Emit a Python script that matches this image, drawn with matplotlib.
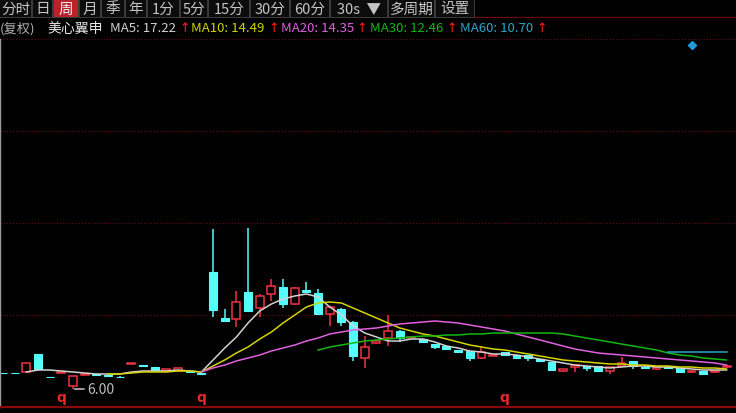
import numpy as np
import matplotlib
matplotlib.use("Agg")
import matplotlib.pyplot as plt
from matplotlib.ticker import LinearLocator
from matplotlib.transforms import blended_transform_factory

plt.rcParams['font.family'] = ['Noto Sans CJK SC', 'DejaVu Sans']

# ---- toolbar and header text ----
period_buttons = ["分时", "日", "周", "月", "季", "年", "1分", "5分", "15分",
                  "30分", "60分", "30s  ▼", "多周期", "设置"]
active_period = "周"
adjust_label = "(复权)"
stock_name = "美心翼申"
ma_names = ["MA5", "MA10", "MA20", "MA30", "MA60"]
ma_latest = [17.22, 14.49, 14.35, 12.46, 10.70]

# ---- weekly OHLC ----
opens = [6.65, 6.65, 6.68, 7.40, 6.50, 6.66, 6.12, 6.58, 6.60, 6.56,
         6.50, 7.02, 6.97, 6.88, 6.74, 6.72, 6.74, 6.66, 10.68, 8.84,
         8.80, 9.88, 9.24, 9.80, 10.08, 9.40, 9.96, 9.84, 9.00, 9.20,
         8.68, 7.24, 7.84, 8.04, 8.32, 8.06, 8.00, 7.80, 7.72, 7.56,
         7.52, 7.24, 7.34, 7.48, 7.36, 7.36, 7.20, 7.08, 6.72, 6.88,
         6.92, 6.92, 6.72, 6.92, 7.12, 6.90, 6.80, 6.90, 6.84, 6.68,
         6.72, 6.68, 6.88]
highs = [6.66, 6.66, 7.04, 7.40, 6.50, 6.70, 6.52, 6.62, 6.61, 6.57,
         6.51, 7.05, 6.98, 6.90, 6.80, 6.84, 6.76, 6.66, 12.40, 9.20,
         9.92, 12.44, 9.80, 10.40, 10.40, 10.08, 10.28, 10.00, 9.32, 9.24,
         8.72, 8.12, 8.00, 8.96, 8.36, 8.10, 8.02, 7.82, 7.74, 7.58,
         7.54, 7.72, 7.38, 7.50, 7.38, 7.38, 7.22, 7.10, 6.82, 6.98,
         6.94, 6.94, 6.90, 7.28, 7.14, 6.92, 6.90, 6.92, 6.86, 6.73,
         6.74, 6.73, 6.96]
lows = [6.63, 6.63, 6.68, 6.80, 6.47, 6.66, 6.00, 6.56, 6.55, 6.51,
        6.46, 7.02, 6.93, 6.74, 6.72, 6.72, 6.68, 6.60, 8.88, 8.72,
        8.48, 9.10, 8.88, 9.52, 9.24, 9.36, 9.84, 8.96, 8.52, 8.52,
        7.12, 6.84, 7.80, 7.72, 7.88, 8.04, 7.86, 7.60, 7.58, 7.46,
        7.12, 7.22, 7.32, 7.34, 7.22, 7.12, 7.10, 6.74, 6.68, 6.68,
        6.72, 6.70, 6.60, 6.90, 6.80, 6.85, 6.78, 6.85, 6.66, 6.66,
        6.58, 6.66, 6.86]
closes = [6.64, 6.64, 7.04, 6.80, 6.48, 6.70, 6.52, 6.62, 6.56, 6.52,
          6.48, 7.05, 6.94, 6.76, 6.80, 6.84, 6.70, 6.62, 9.16, 8.72,
          9.48, 9.12, 9.72, 10.12, 9.40, 10.04, 9.88, 9.00, 9.28, 8.68,
          7.32, 7.68, 7.92, 8.32, 8.04, 8.10, 7.88, 7.68, 7.60, 7.48,
          7.24, 7.48, 7.38, 7.36, 7.24, 7.24, 7.12, 6.76, 6.80, 6.96,
          6.84, 6.72, 6.88, 7.04, 6.92, 6.86, 6.88, 6.86, 6.68, 6.72,
          6.60, 6.72, 6.94]

# ---- moving averages (first bar index, values) ----
ma5_start = 2
ma5 = [6.68, 6.76, 6.76, 6.72, 6.68, 6.64, 6.60, 6.60, 6.60, 6.68,
       6.72, 6.72, 6.72, 6.76, 6.72, 6.68, 7.16, 7.64, 8.08, 8.64,
       9.12, 9.40, 9.60, 9.72, 9.80, 9.68, 9.28, 8.96, 8.52, 8.24,
       8.08, 7.92, 7.92, 8.00, 8.00, 7.88, 7.72, 7.64, 7.52, 7.48,
       7.40, 7.40, 7.36, 7.28, 7.20, 7.12, 7.04, 6.96, 6.92, 6.88,
       6.84, 6.88, 6.92, 6.92, 6.88, 6.88, 6.84, 6.80, 6.76, 6.76,
       6.76]
ma10_start = 9
ma10 = [6.60, 6.60, 6.64, 6.68, 6.68, 6.68, 6.72, 6.72, 6.68, 6.92,
        7.16, 7.44, 7.68, 8.00, 8.28, 8.64, 8.96, 9.28, 9.44, 9.48,
        9.44, 9.24, 9.04, 8.84, 8.64, 8.44, 8.32, 8.20, 8.12, 8.00,
        7.88, 7.76, 7.68, 7.60, 7.56, 7.48, 7.40, 7.32, 7.24, 7.16,
        7.12, 7.08, 7.04, 7.00, 7.00, 6.96, 6.96, 6.92, 6.92, 6.88,
        6.88, 6.84, 6.84, 6.80]
ma20_start = 17
ma20 = [6.68, 6.84, 6.96, 7.12, 7.24, 7.36, 7.52, 7.64, 7.76, 7.92,
        8.04, 8.20, 8.28, 8.36, 8.40, 8.44, 8.52, 8.60, 8.64, 8.68,
        8.72, 8.68, 8.64, 8.56, 8.48, 8.40, 8.32, 8.20, 8.08, 7.96,
        7.84, 7.72, 7.60, 7.52, 7.44, 7.40, 7.36, 7.32, 7.28, 7.24,
        7.20, 7.16, 7.12, 7.08, 7.04, 6.96]
ma30_start = 27
ma30 = [7.56, 7.68, 7.76, 7.84, 7.92, 7.96, 8.00, 8.04, 8.08, 8.12,
        8.12, 8.16, 8.16, 8.20, 8.20, 8.24, 8.24, 8.24, 8.24, 8.24,
        8.24, 8.20, 8.12, 8.04, 7.96, 7.88, 7.80, 7.72, 7.64, 7.56,
        7.44, 7.36, 7.32, 7.24, 7.20, 7.16]
ma60_start = 57
ma60 = [7.48, 7.48, 7.48, 7.48, 7.48, 7.48]

signal_bars = [5, 17, 43]          # "q" markers under the bars
alert_bar, alert_price = 59, 19.76  # diamond alert marker

# ---- colours ----
BG = "black"
UP = "#ee3440"
DOWN = "#54fcfc"
MA_COLORS = ["#d2d2d2", "#d4d400", "#e060e0", "#10b810", "#2aa8c8"]
GRID = "#5c0c0c"

W, H = 736, 414
fig = plt.figure(figsize=(W / 100, H / 100), dpi=100, facecolor=BG)


def fx(px):
    return px / W


def fy(py):
    return 1 - py / H


# ---- price panel ----
panel_top, panel_bot = 40, 408
ax = fig.add_axes([0, fy(panel_bot), 1, (panel_bot - panel_top) / H], facecolor=BG)
bar_step, first_px = 11.67, 3.0
ax.set_xlim(-first_px / bar_step, (W - first_px) / bar_step)
ax.set_ylim(5.28, 20.0)
ax.yaxis.set_major_locator(LinearLocator(5))
ax.grid(axis="y", color=GRID, linestyle=(0, (1, 1.5)), linewidth=0.9)
ax.tick_params(left=False, bottom=False, labelleft=False, labelbottom=False)
for side in ("top", "right"):
    ax.spines[side].set_visible(False)
ax.spines["bottom"].set_color("#8a0a0a")
ax.spines["bottom"].set_linewidth(1.6)
ax.spines["left"].set_color("#9a9a9a")
ax.spines["left"].set_linewidth(1.0)

o = np.asarray(opens)
h = np.asarray(highs)
l = np.asarray(lows)
c = np.asarray(closes)
x = np.arange(len(o))
up = c > o
body_lo = np.minimum(o, c)
body_hi = np.maximum(o, c)
body_w = 0.68

# wicks (hollow red bodies keep their interior clear)
ax.vlines(x[up], l[up], body_lo[up], color=UP, lw=1.1, zorder=2)
ax.vlines(x[up], body_hi[up], h[up], color=UP, lw=1.1, zorder=2)
ax.vlines(x[~up], l[~up], h[~up], color=DOWN, lw=1.1, zorder=2)
# bodies
ax.bar(x[up], (body_hi - body_lo)[up], bottom=body_lo[up], width=body_w,
       facecolor=BG, edgecolor=UP, linewidth=1.1, zorder=2)
ax.bar(x[~up], (body_hi - body_lo)[~up], bottom=body_lo[~up], width=body_w,
       facecolor=DOWN, edgecolor=DOWN, linewidth=0.8, zorder=2)

# moving averages
for (start, vals), col in zip([(ma5_start, ma5), (ma10_start, ma10), (ma20_start, ma20),
                               (ma30_start, ma30), (ma60_start, ma60)], MA_COLORS):
    ax.plot(start + np.arange(len(vals)), vals, color=col, lw=1.1, zorder=3)

# lowest low label
lo_i = int(np.argmin(l))
ax.annotate(f"{l[lo_i]:.2f}", xy=(lo_i, l[lo_i]), xytext=(10, 0),
            textcoords="offset points", ha="left", va="center",
            color="#bdbdbd", fontsize=10,
            arrowprops=dict(arrowstyle="-", color="#d8d8d8", lw=1.0,
                            shrinkA=0, shrinkB=1))

# signal markers under the bars
trans = blended_transform_factory(ax.transData, ax.transAxes)
for b in signal_bars:
    ax.text(b, 0.028, "q", transform=trans, ha="center", va="center",
            color="#e82828", fontsize=10, fontweight="bold",
            family=["DejaVu Sans"])

# alert diamond
ax.plot([alert_bar], [alert_price], marker="D", ms=4.5, color="#1e9be0",
        linestyle="none", zorder=4)

# ---- toolbar ----
tb = fig.add_axes([0, fy(19), 1, 19 / H], facecolor=BG)
tb.set_xlim(0, W)
tb.set_ylim(19, 0)
tb.axis("off")
button_edges = [(0, 31), (33, 52), (54, 78), (80, 100), (102, 124), (126, 146),
                (148, 179), (181, 207), (209, 249), (251, 289), (291, 329),
                (331, 387), (389, 434), (436, 474)]
tb.add_patch(plt.Rectangle((-1, 0), 476, 19, facecolor="#3a3a3a", edgecolor="none"))
for label, (a, b) in zip(period_buttons, button_edges):
    active = label == active_period
    tb.add_patch(plt.Rectangle((a, 1), b - a, 17,
                               facecolor="#b8232a" if active else "#0c0c0c",
                               edgecolor="none"))
    tb.text((a + b) / 2, 9.5, label, ha="center", va="center", fontsize=10.5,
            color="#f0f0f0" if active else "#c4c4c4")
tb.plot([474, W], [18, 18], color="#6a0a0a", lw=1.0)

# ---- header line with MA readings ----
hy = fy(29)
fig.text(fx(0), hy, adjust_label, color="#b0b0b0", fontsize=9.5, va="center")
fig.text(fx(47), hy, stock_name, color="#e8e8e8", fontsize=10, va="center")
ma_x = [110, 191, 281, 370, 460]
arrow_x = [179, 268, 356, 446, 536]
for name, val, col, tx, axp in zip(ma_names, ma_latest, MA_COLORS, ma_x, arrow_x):
    fig.text(fx(tx), hy, f"{name}: {val:.2f}", color=col, fontsize=9.5, va="center")
    fig.text(fx(axp), hy, "↑", color="#ff2020", fontsize=9, va="center",
             family=["DejaVu Sans"])

fig.savefig("out.png", dpi=100, facecolor=BG)
